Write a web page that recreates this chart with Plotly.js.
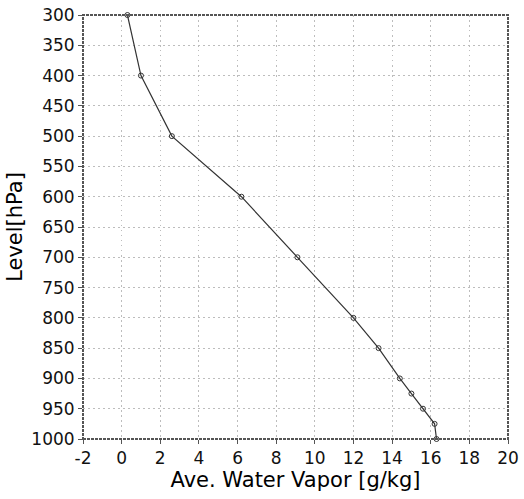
<!DOCTYPE html>
<html><head><meta charset="utf-8">
<script src="https://cdn.plot.ly/plotly-3.0.1.min.js"></script>
<style>html,body{margin:0;padding:0;background:#fff}</style>
</head><body>
<div id="chart" style="width:524px;height:499px"></div>
<script>
const levels = [300, 400, 500, 600, 700, 800, 850, 900, 925, 950, 975, 1000];
const vapor = [0.3, 1.0, 2.6, 6.2, 9.1, 12.0, 13.3, 14.4, 15.0, 15.6, 16.2, 16.3];
const xTicks = [-2, 0, 2, 4, 6, 8, 10, 12, 14, 16, 18, 20];
const yTicks = [300, 350, 400, 450, 500, 550, 600, 650, 700, 750, 800, 850, 900, 950, 1000];

const trace = {
  x: vapor, y: levels, type: 'scatter', mode: 'lines+markers',
  line: {color: '#333', width: 1.2},
  marker: {symbol: 'circle-open', size: 5, color: '#333', line: {width: 1, color: '#333'}},
  cliponaxis: false, showlegend: false
};
const fam = 'DejaVu Sans, Verdana, sans-serif';
const layout = {
  width: 524, height: 499,
  margin: {l: 83, r: 16, t: 15, b: 60},
  paper_bgcolor: '#fff', plot_bgcolor: '#fff',
  font: {family: fam, color: '#000'},
  xaxis: {
    range: [-2, 20], tickvals: xTicks, ticktext: xTicks.map(String),
    showgrid: true, gridcolor: '#bdbdbd', griddash: '1.5px,3.5px', gridwidth: 1,
    zeroline: false, showline: false,
    ticks: 'outside', ticklen: 4, tickcolor: '#555',
    tickfont: {size: 17, family: fam, color: '#111'},
    title: {text: 'Ave. Water Vapor [g/kg]', font: {size: 21, family: fam, color: '#000'}, standoff: 4}
  },
  yaxis: {
    range: [1000, 300], tickvals: yTicks, ticktext: yTicks.map(String),
    showgrid: true, gridcolor: '#bdbdbd', griddash: '1.5px,3.5px', gridwidth: 1,
    zeroline: false, showline: false,
    ticks: 'outside', ticklen: 4, tickcolor: '#555',
    tickfont: {size: 17, family: fam, color: '#111'},
    title: {text: 'Level[hPa]', font: {size: 21, family: fam, color: '#000'}, standoff: 2}
  },
  shapes: [{
    type: 'rect', xref: 'paper', yref: 'paper', x0: 0, x1: 1, y0: 0, y1: 1,
    line: {color: '#555', width: 2, dash: '3px,1px'}, layer: 'above'
  }]
};
Plotly.newPlot('chart', [trace], layout, {staticPlot: true, displayModeBar: false});
</script>
</body></html>
